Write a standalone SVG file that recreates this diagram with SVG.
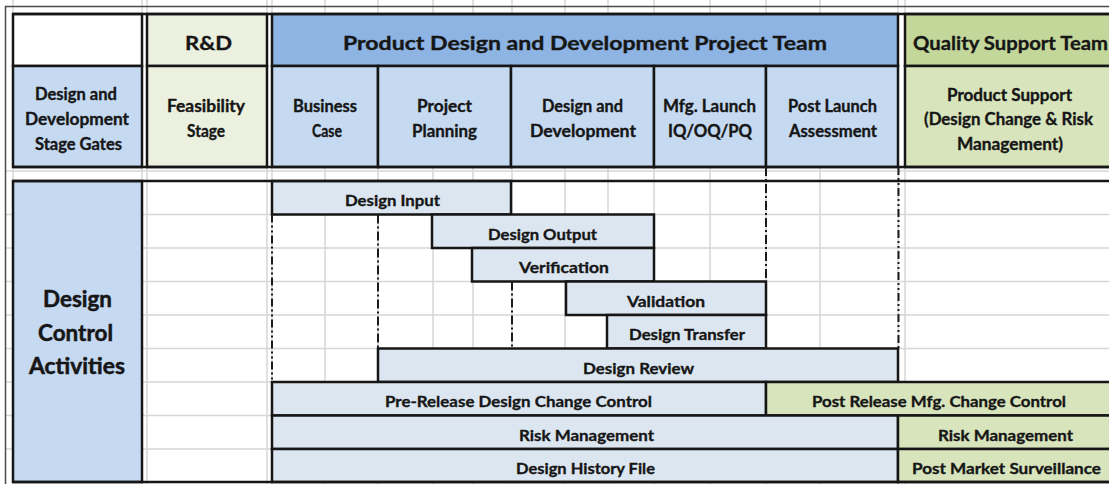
<svg xmlns="http://www.w3.org/2000/svg" width="1109" height="484" viewBox="0 0 1109 484">
  <style>
    .grid { stroke: #d6d6d6; stroke-width: 1.5; fill: none; }
    .frame { stroke: #4a4a4a; stroke-width: 1.5; fill: none; }
    .edge { stroke: #161616; stroke-width: 2.5; fill: none; }
    .cell { stroke: #161616; stroke-width: 2.5; }
    .white { fill: #ffffff; }
    .blue-dark { fill: #8db4e2; }
    .blue { fill: #c5d9f1; }
    .blue-light { fill: #dce6f1; }
    .green-pale { fill: #ebf1de; }
    .green-dark { fill: #c4d79b; }
    .green { fill: #d8e4bc; }
    .phase { stroke: #1a1a1a; stroke-width: 2; fill: none; stroke-dasharray: 9 3 2 3; }
    .phase2 { stroke: #1a1a1a; stroke-width: 2; fill: none; stroke-dasharray: 8 3 2 3 2 3; }
    .t { font-family: Lato, "Open Sans", "DejaVu Sans", sans-serif; font-weight: 700; fill: #161616; stroke: #161616; stroke-width: 0.35; text-anchor: middle; }
    .h1 { font-size: 19.5px; }
    .h2 { font-size: 16.5px; }
    .bar { font-size: 16px; }
    .big { font-size: 22px; stroke-width: 0.5; }
  </style>

  <rect x="0" y="0" width="1109" height="484" fill="#ffffff"/>

  <!-- sheet gridlines -->
  <g id="gridlines" class="grid">
    <path d="M13 0V484M142 0V484M147 0V484M267 0V484M272 0V484M325 0V484M378 0V484M433 0V484M473 0V484M512 0V484M565 0V484M608 0V484M654 0V484M710 0V484M766 0V484M820 0V484M898 0V484M905 0V484"/>
    <path d="M5 171H1109M5 214.5H1109M5 248H1109M5 281.5H1109M5 315H1109M5 348.5H1109M5 382H1109M5 415.5H1109M5 449H1109"/>
  </g>

  <!-- outer print frame -->
  <path class="frame" d="M5.5 484V6.5H1109"/>

  <!-- header block -->
  <g id="header">
    <g id="corner"><rect class="cell white" x="13" y="14" width="129" height="52"/></g>
    <g id="stage-gates">
      <rect class="cell blue" x="13" y="66" width="129" height="101"/>
      <text class="t h2" x="76" y="100" textLength="82" lengthAdjust="spacingAndGlyphs">Design and</text>
      <text class="t h2" x="77" y="125" textLength="104" lengthAdjust="spacingAndGlyphs">Development</text>
      <text class="t h2" x="78.5" y="150" textLength="87" lengthAdjust="spacingAndGlyphs">Stage Gates</text>
    </g>
    <g id="rnd">
      <rect class="cell green-pale" x="147" y="14" width="120" height="52"/>
      <text class="t h1" x="208.5" y="50" textLength="47" lengthAdjust="spacingAndGlyphs">R&amp;D</text>
    </g>
    <g id="feasibility">
      <rect class="cell green-pale" x="147" y="66" width="120" height="101"/>
      <text class="t h2" x="206" y="112" textLength="78" lengthAdjust="spacingAndGlyphs">Feasibility</text>
      <text class="t h2" x="206" y="137" textLength="38" lengthAdjust="spacingAndGlyphs">Stage</text>
    </g>
    <g id="project-team">
      <rect class="cell blue-dark" x="272" y="14" width="626" height="52"/>
      <text class="t h1" x="585" y="50" textLength="484" lengthAdjust="spacingAndGlyphs">Product Design and Development Project Team</text>
    </g>
    <g id="business-case">
      <rect class="cell blue" x="272" y="66" width="106" height="101"/>
      <text class="t h2" x="325" y="112" textLength="64" lengthAdjust="spacingAndGlyphs">Business</text>
      <text class="t h2" x="327" y="137" textLength="30" lengthAdjust="spacingAndGlyphs">Case</text>
    </g>
    <g id="project-planning">
      <rect class="cell blue" x="378" y="66" width="133" height="101"/>
      <text class="t h2" x="444.5" y="112" textLength="55" lengthAdjust="spacingAndGlyphs">Project</text>
      <text class="t h2" x="444.5" y="137" textLength="65" lengthAdjust="spacingAndGlyphs">Planning</text>
    </g>
    <g id="design-development">
      <rect class="cell blue" x="511" y="66" width="143" height="101"/>
      <text class="t h2" x="582.5" y="112" textLength="81" lengthAdjust="spacingAndGlyphs">Design and</text>
      <text class="t h2" x="583" y="137" textLength="106" lengthAdjust="spacingAndGlyphs">Development</text>
    </g>
    <g id="mfg-launch">
      <rect class="cell blue" x="654" y="66" width="112" height="101"/>
      <text class="t h2" x="709.5" y="112" textLength="93" lengthAdjust="spacingAndGlyphs">Mfg. Launch</text>
      <text class="t h2" x="710" y="137" textLength="84" lengthAdjust="spacingAndGlyphs">IQ/OQ/PQ</text>
    </g>
    <g id="post-launch">
      <rect class="cell blue" x="766" y="66" width="132" height="101"/>
      <text class="t h2" x="832.5" y="112" textLength="89" lengthAdjust="spacingAndGlyphs">Post Launch</text>
      <text class="t h2" x="833" y="137" textLength="88" lengthAdjust="spacingAndGlyphs">Assessment</text>
    </g>
    <g id="quality-team">
      <rect class="cell green-dark" x="905" y="14" width="210" height="52"/>
      <text class="t h1" x="1010.5" y="50" textLength="195" lengthAdjust="spacingAndGlyphs">Quality Support Team</text>
    </g>
    <g id="product-support">
      <rect class="cell green" x="905" y="66" width="210" height="101"/>
      <text class="t h2" x="1009.5" y="101" textLength="125" lengthAdjust="spacingAndGlyphs">Product Support</text>
      <text class="t h2" x="1008.5" y="125" textLength="169" lengthAdjust="spacingAndGlyphs">(Design Change &amp; Risk</text>
      <text class="t h2" x="1010" y="150" textLength="106" lengthAdjust="spacingAndGlyphs">Management)</text>
    </g>
    <path class="edge" d="M13 14H1112M13 167H1112"/>
  </g>

  <!-- activity block -->
  <g id="activities">
    <g id="design-control">
      <rect class="cell blue" x="13" y="181" width="129" height="301"/>
      <text class="t big" x="77.5" y="307" textLength="69" lengthAdjust="spacingAndGlyphs">Design</text>
      <text class="t big" x="75.5" y="341" textLength="75" lengthAdjust="spacingAndGlyphs">Control</text>
      <text class="t big" x="77" y="374" textLength="96" lengthAdjust="spacingAndGlyphs">Activities</text>
    </g>
    <g id="design-input">
      <rect class="cell blue-light" x="272" y="181" width="239" height="33.5"/>
      <text class="t bar" x="392.5" y="206" textLength="95" lengthAdjust="spacingAndGlyphs">Design Input</text>
    </g>
    <g id="design-output">
      <rect class="cell blue-light" x="432" y="214.5" width="222" height="33.5"/>
      <text class="t bar" x="542.5" y="239.5" textLength="109" lengthAdjust="spacingAndGlyphs">Design Output</text>
    </g>
    <g id="verification">
      <rect class="cell blue-light" x="472" y="248" width="182" height="33.5"/>
      <text class="t bar" x="564" y="273" textLength="90" lengthAdjust="spacingAndGlyphs">Verification</text>
    </g>
    <g id="validation">
      <rect class="cell blue-light" x="566" y="281.5" width="200" height="33.5"/>
      <text class="t bar" x="666" y="306.5" textLength="78" lengthAdjust="spacingAndGlyphs">Validation</text>
    </g>
    <g id="design-transfer">
      <rect class="cell blue-light" x="607" y="315" width="159" height="33.5"/>
      <text class="t bar" x="687" y="340" textLength="116" lengthAdjust="spacingAndGlyphs">Design Transfer</text>
    </g>
    <g id="design-review">
      <rect class="cell blue-light" x="378" y="348.5" width="520" height="33.5"/>
      <text class="t bar" x="638.5" y="373.5" textLength="111" lengthAdjust="spacingAndGlyphs">Design Review</text>
    </g>
    <g id="pre-release-change">
      <rect class="cell blue-light" x="272" y="382" width="494" height="33.5"/>
      <text class="t bar" x="518.5" y="407" textLength="267" lengthAdjust="spacingAndGlyphs">Pre-Release Design Change Control</text>
    </g>
    <g id="post-release-change">
      <rect class="cell green" x="766" y="382" width="346" height="33.5"/>
      <text class="t bar" x="939" y="407" textLength="254" lengthAdjust="spacingAndGlyphs">Post Release Mfg. Change Control</text>
    </g>
    <g id="risk-management">
      <rect class="cell blue-light" x="272" y="415.5" width="626" height="33.5"/>
      <text class="t bar" x="586.5" y="440.5" textLength="135" lengthAdjust="spacingAndGlyphs">Risk Management</text>
    </g>
    <g id="risk-management-post">
      <rect class="cell green" x="898" y="415.5" width="214" height="33.5"/>
      <text class="t bar" x="1005.5" y="440.5" textLength="135" lengthAdjust="spacingAndGlyphs">Risk Management</text>
    </g>
    <g id="design-history-file">
      <rect class="cell blue-light" x="272" y="449" width="626" height="33"/>
      <text class="t bar" x="585.5" y="474" textLength="139" lengthAdjust="spacingAndGlyphs">Design History File</text>
    </g>
    <g id="post-market">
      <rect class="cell green" x="898" y="449" width="214" height="33"/>
      <text class="t bar" x="1006.5" y="474" textLength="189" lengthAdjust="spacingAndGlyphs">Post Market Surveillance</text>
    </g>
    <path class="edge" d="M13 181H1112M13 482H1112"/>
  </g>

  <!-- stage-gate boundary lines -->
  <g id="connectors">
    <path class="phase2" d="M272 214.5V382"/>
    <path class="phase" d="M378 214.5V348.5"/>
    <path class="phase" d="M512 281.5V348.5"/>
    <path class="phase" d="M766 167V281.5"/>
    <path class="phase2" d="M898.5 167V348.5"/>
  </g>
</svg>
